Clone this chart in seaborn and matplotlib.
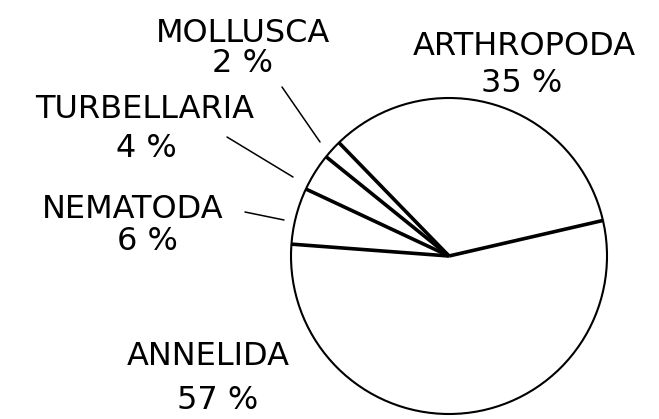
import numpy as np
import matplotlib
matplotlib.use("Agg")
import matplotlib.pyplot as plt
import seaborn as sns

# --- data ---
phyla = ["ARTHROPODA", "MOLLUSCA", "TURBELLARIA", "NEMATODA", "ANNELIDA"]
percent = [35, 2, 4, 6, 57]
pct_labels = ["35 %", "2 %", "4 %", "6 %", "57 %"]

sns.set_theme(style="white")
plt.rcParams["font.family"] = ["DejaVu Sans"]

W, H = 659, 419
fig = plt.figure(figsize=(W / 100, H / 100), dpi=100)
ax = fig.add_axes([0, 0, 1, 1])

cx, cy, r = 449, 163, 158

wedges, _ = ax.pie(percent, startangle=13, counterclock=True,
                   center=(cx, cy), radius=r, frame=True,
                   colors=["white"] * len(percent),
                   wedgeprops=dict(linewidth=0))
ax.set_xlim(0, W)
ax.set_ylim(0, H)
ax.axis("off")

# radial separators (thick) from the wedge angles
for w in wedges:
    t = np.deg2rad(w.theta1)
    ax.plot([cx, cx + r * np.cos(t)], [cy, cy + r * np.sin(t)],
            color="black", lw=2.6, solid_capstyle="butt", zorder=3)

# outer circle (thinner)
ax.add_patch(plt.Circle((cx, cy), r, fill=False, ec="black", lw=1.5, zorder=3))

# --- labels ---
fs = 23
label_pos = {
    "ARTHROPODA": ((524, 364), (522, 327)),
    "MOLLUSCA": ((243, 377), (242, 347)),
    "TURBELLARIA": ((145, 301), (146, 262)),
    "NEMATODA": ((133, 201), (147, 169)),
    "ANNELIDA": ((208, 54), (218, 10)),
}
for name, pct in zip(phyla, pct_labels):
    (nx, ny), (px, py) = label_pos[name]
    ax.text(nx, ny, name, ha="center", va="baseline", fontsize=fs, color="black")
    ax.text(px, py, pct, ha="center", va="baseline", fontsize=fs, color="black")

# leader lines
leaders = [((282, 332), (320, 277)),
           ((227, 282), (293, 242)),
           ((245, 207), (284, 199))]
for (x0, y0), (x1, y1) in leaders:
    ax.plot([x0, x1], [y0, y1], color="black", lw=1.1)

fig.savefig("out.png", dpi=100, facecolor="white")
